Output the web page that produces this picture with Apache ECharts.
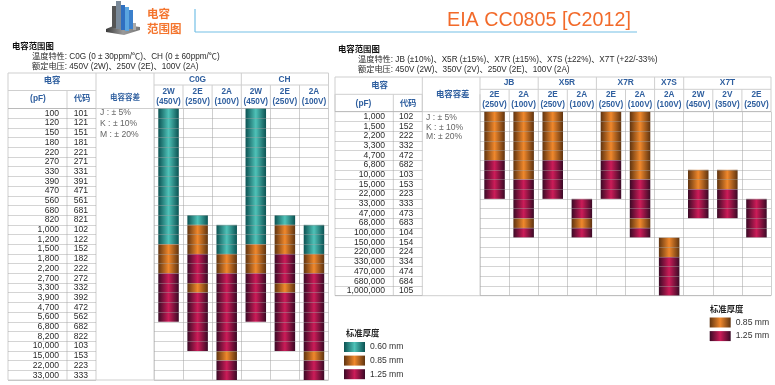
<!DOCTYPE html>
<html><head><meta charset="utf-8">
<style>html,body{margin:0;padding:0;background:#fff}#c{width:775px;height:385px}</style>
<script src="https://cdn.jsdelivr.net/npm/echarts@6/dist/echarts.min.js"></script></head>
<body><div id="c"></div>
<script>
const T60='0.60 mm',T85='0.85 mm',T125='1.25 mm';
// left table
const capLeft=['100','120','150','180','220','270','330','390','470','560','680','820','1,000','1,200','1,500','1,800','2,200','2,700','3,300','3,900','4,700','5,600','6,800','8,200','10,000','15,000','22,000','33,000'];
const codeLeft=['101','121','151','181','221','271','331','391','471','561','681','821','102','122','152','182','222','272','332','392','472','562','682','822','103','153','223','333'];
const voltLeft=['2W\n(450V)','2E\n(250V)','2A\n(100V)','2W\n(450V)','2E\n(250V)','2A\n(100V)'];
const c0g2W=[['100','1,200',T60],['1,500','2,200',T85],['2,700','5,600',T125]];
const c0g2E=[['820','820',T60],['1,000','1,500',T85],['1,800','2,700',T125],['3,300','3,300',T85],['3,900','10,000',T125]];
const c0g2A=[['1,000','1,500',T60],['1,800','2,200',T85],['2,700','10,000',T125],['15,000','15,000',T85],['22,000','33,000',T125]];
const ch2W=[['100','1,200',T60],['1,500','2,200',T85],['2,700','5,600',T125]];
const ch2E=[['820','820',T60],['1,000','1,500',T85],['1,800','2,700',T125],['3,300','3,300',T85],['3,900','10,000',T125]];
const ch2A=[['1,000','1,500',T60],['1,800','2,200',T85],['2,700','10,000',T125],['15,000','15,000',T85],['22,000','33,000',T125]];
const colsLeft=[c0g2W,c0g2E,c0g2A,ch2W,ch2E,ch2A];
// right table
const capRight=['1,000','1,500','2,200','3,300','4,700','6,800','10,000','15,000','22,000','33,000','47,000','68,000','100,000','150,000','220,000','330,000','470,000','680,000','1,000,000'];
const codeRight=['102','152','222','332','472','682','103','153','223','333','473','683','104','154','224','334','474','684','105'];
const voltRight=['2E\n(250V)','2A\n(100V)','2E\n(250V)','2A\n(100V)','2E\n(250V)','2A\n(100V)','2A\n(100V)','2W\n(450V)','2V\n(350V)','2E\n(250V)'];
const jb2E=[['1,000','4,700',T85],['6,800','22,000',T125]];
const jb2A=[['1,000','10,000',T85],['15,000','47,000',T125],['68,000','68,000',T85],['100,000','100,000',T125]];
const x5r2E=[['1,000','4,700',T85],['6,800','22,000',T125]];
const x5r2A=[['33,000','47,000',T125],['68,000','68,000',T85],['100,000','100,000',T125]];
const x7r2E=[['1,000','4,700',T85],['6,800','22,000',T125]];
const x7r2A=[['1,000','10,000',T85],['15,000','47,000',T125],['68,000','68,000',T85],['100,000','100,000',T125]];
const x7s2A=[['150,000','220,000',T85],['330,000','1,000,000',T125]];
const x7t2W=[['10,000','15,000',T85],['22,000','47,000',T125]];
const x7t2V=[['10,000','15,000',T85],['22,000','47,000',T125]];
const x7t2E=[['33,000','100,000',T125]];
const colsRight=[jb2E,jb2A,x5r2E,x5r2A,x7r2E,x7r2A,x7s2A,x7t2W,x7t2V,x7t2E];

const FONT='"Liberation Sans","Noto Sans CJK SC",sans-serif';
const BLUE='#2f5f9f', RULE='#cfcfcf', INK='#2b2b2b';
const grad=(e,m)=>new echarts.graphic.LinearGradient(0,0,1,0,[{offset:0,color:e},{offset:.5,color:m},{offset:1,color:e}]);
const fills={[T60]:grad('#0b5252','#4fc2b8'),[T85]:grad('#5f3410','#f0882c'),[T125]:grad('#3a0a26','#cc1c58')};

function runs(cols,rows,thick){
  const out=[];
  cols.forEach((col,i)=>col.forEach(r=>{if(r[2]===thick)out.push([i,rows.indexOf(r[0]),rows.indexOf(r[1])]);}));
  return out;
}
function renderCell(p,api){
  const a=api.coord([api.value(0),api.value(1)]),b=api.coord([api.value(0),api.value(2)]),s=api.size([1,1]);
  const w=s[0]*0.705;
  return {type:'rect',shape:{x:a[0]-w/2,y:a[1]-s[1]/2,width:w,height:b[1]-a[1]+s[1]},style:api.style()};
}
function seriesFor(cols,rows,thicks,xi,yi){
  return thicks.map(t=>({type:'custom',name:t,xAxisIndex:xi,yAxisIndex:yi,itemStyle:{color:fills[t]},
    encode:{x:0,y:[1,2]},renderItem:renderCell,data:runs(cols,rows,t),silent:true,clip:false,z:2}));
}
const lineS={color:'rgba(160,160,160,.45)',width:1};
const plainY=(rows,grid)=>({type:'category',gridIndex:grid,position:'left',data:rows,inverse:true,z:3,axisLine:{show:false},axisTick:{show:false},
  axisLabel:{show:false},splitLine:{show:true,interval:0,lineStyle:lineS}});
const plainX=(grid)=>({type:'category',gridIndex:grid,data:[''],show:false});
const labelY=(rows,grid,m)=>({type:'category',gridIndex:grid,position:'left',data:rows,inverse:true,axisLine:{show:false},axisTick:{show:false},splitLine:{show:false},
  axisLabel:{inside:true,interval:0,margin:m,align:'right',fontSize:8.6,color:INK,fontFamily:FONT}});
const voltX=(v,grid)=>({type:'category',gridIndex:grid,position:'top',data:v,axisLine:{show:false},axisTick:{show:false},
  splitLine:{show:true,interval:0,lineStyle:{color:RULE,width:1}},
  axisLabel:{interval:0,fontSize:8.2,fontWeight:'bold',color:BLUE,fontFamily:FONT,lineHeight:10,margin:2}});

// decoration helpers
const G=[];
const seg=(x1,y1,x2,y2,c,w)=>G.push({type:'line',silent:true,shape:{x1,y1,x2,y2},style:{stroke:c||RULE,lineWidth:w||1}});
const txt=(x,y,t,o)=>G.push({type:'text',silent:true,x,y,style:Object.assign({text:t,font:'8.2px '+FONT,fill:INK,align:'left',verticalAlign:'middle'},o||{})});
const head=(x,y,t,s)=>txt(x,y,t,{font:'bold '+(s||8.4)+'px '+FONT,fill:BLUE,align:'center'});

// banner
seg(195,9,195,32,'#74c0e6',1.2); seg(195,32,637,32,'#74c0e6',1.2);
txt(447,20.5,'EIA CC0805 [C2012]',{font:'19.7px '+FONT,fill:'#f26a2a'});
txt(147,15,'电容',{font:'bold 11.5px '+FONT,fill:'#f4752e'});
txt(147,30,'范围图',{font:'bold 11.5px '+FONT,fill:'#f4752e'});
// logo
G.push({type:'polygon',silent:true,shape:{points:[[106,29],[118,24],[140,27],[140,30],[124,35],[106,32]]},style:{fill:new echarts.graphic.LinearGradient(0,0,1,0,[{offset:0,color:'#3b3b3b'},{offset:.5,color:'#9a9a9a'},{offset:1,color:'#777'}])}});
[[112,6,4,22,'#555'],[116,1,5,28,'#7a8a9a'],[121,5,4,25,'#2f6fc0'],[125,7,4,24,'#5aa5e0'],[129,10,4,19,'#3b80cc'],[133,23,3,7,'#aaa']].forEach(b=>
  G.push({type:'rect',silent:true,shape:{x:b[0],y:b[1],width:b[2],height:b[3]},style:{fill:b[4]}}));

// left captions
txt(12,47,'电容范围图',{font:'bold 8.4px '+FONT,fill:'#111'});
txt(32,57,'温度特性: C0G (0 ± 30ppm/℃)、CH (0 ± 60ppm/℃)');
txt(32,67,'额定电压: 450V (2W)、250V (2E)、100V (2A)');
// left header rules
[73,108.5,380].forEach(y=>seg(8,y,328.5,y));
seg(8,90.5,96,90.5); seg(154,85,328.5,85);
[8,96,154,241.3,328.5].forEach(x=>seg(x,73,x,108.5));
[8,67,96,154].forEach(x=>seg(x,108.5,x,380));
seg(67,90.5,67,108.5);
[183,212.1,270.4,299.5].forEach(x=>seg(x,85,x,108.5));
head(52,81,'电容'); head(38,99,'(pF)'); head(82,99,'代码'); head(125,98,'电容容差',7.5);
head(197.5,80,'C0G'); head(284.5,80,'CH');
[['J : ± 5%',113],['K : ± 10%',124],['M : ± 20%',134.5]].forEach(r=>txt(100,r[1],r[0],{fill:'#666',font:'8.6px '+FONT}));

// right captions
txt(338,49.5,'电容范围图',{font:'bold 8.4px '+FONT,fill:'#111'});
txt(358,60,'温度特性: JB (±10%)、X5R (±15%)、X7R (±15%)、X7S (±22%)、X7T (+22/-33%)');
txt(358,69.5,'额定电压: 450V (2W)、350V (2V)、250V (2E)、100V (2A)');
// right header rules
[77,111.7,295.7].forEach(y=>seg(335,y,771,y));
seg(335,94.3,422.3,94.3); seg(480,89.3,771,89.3);
[335,422.3,480,538.2,596.4,654.6,683.7,771].forEach(x=>seg(x,77,x,111.7));
[335,393.3,422.3,480].forEach(x=>seg(x,94.3,x,295.7));
[509.1,567.3,625.5,712.8,741.9].forEach(x=>seg(x,89.3,x,111.7));
head(379.5,86,'电容'); head(363.5,104,'(pF)'); head(408,104,'代码'); head(452.7,95,'电容容差');
[['JB',509],['X5R',567],['X7R',625.7],['X7S',669],['X7T',727.5]].forEach(r=>head(r[1],83,r[0]));
[['J : ± 5%',118],['K : ± 10%',127.5],['M: ± 20%',137]].forEach(r=>txt(426,r[1],r[0],{fill:'#666',font:'8.6px '+FONT}));
// legend titles
txt(346,334,'标准厚度',{font:'bold 8.4px '+FONT,fill:'#222'});
txt(710,310,'标准厚度',{font:'bold 8.4px '+FONT,fill:'#222'});

const chart=echarts.init(document.getElementById('c'),null,{renderer:'canvas'});
chart.setOption({
  animation:false,backgroundColor:'#fff',textStyle:{fontFamily:FONT},
  grid:[
    {left:154,top:108.5,width:174.5,height:271.5},
    {left:8,top:108.5,width:88,height:271.5},
    {left:480,top:111.7,width:291,height:184},
    {left:335,top:111.7,width:87.3,height:184}
  ],
  xAxis:[voltX(voltLeft,0),plainX(1),voltX(voltRight,2),plainX(3)],
  yAxis:[
    plainY(capLeft,0),
    plainY(capLeft,1),
    labelY(capLeft,1,51),
    labelY(codeLeft,1,80),
    plainY(capRight,2),
    plainY(capRight,3),
    labelY(capRight,3,50),
    labelY(codeRight,3,78.3)
  ],
  legend:[
    {left:344,top:342,orient:'vertical',padding:0,itemWidth:21,itemHeight:10,itemGap:3.6,icon:'rect',selectedMode:false,data:[T60,T85,T125],textStyle:{fontSize:8.6,color:'#333',fontFamily:FONT}},
    {left:709.7,top:317.5,orient:'vertical',padding:0,itemWidth:21,itemHeight:10,itemGap:3.6,icon:'rect',selectedMode:false,data:[T85,T125],textStyle:{fontSize:8.6,color:'#333',fontFamily:FONT}}
  ],
  series:[...seriesFor(colsLeft,capLeft,[T60,T85,T125],0,0),
          ...seriesFor(colsRight,capRight,[T85,T125],2,4)],
  graphic:G
});
</script></body></html>
